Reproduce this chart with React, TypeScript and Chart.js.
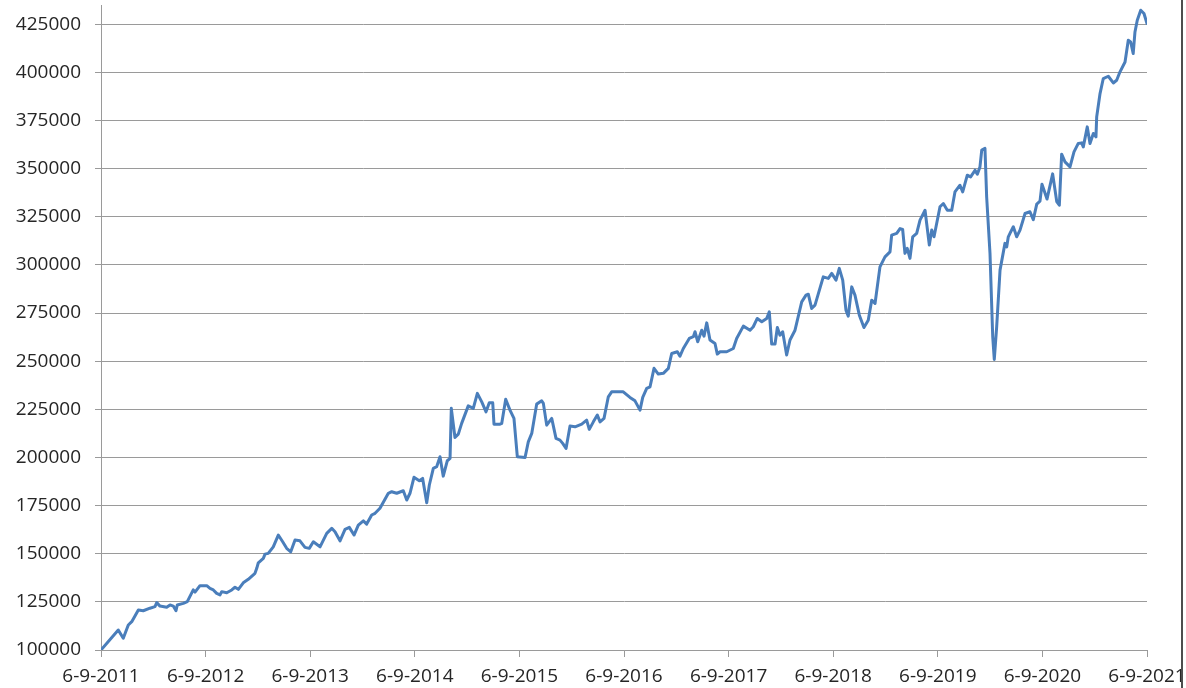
import React, { useEffect, useRef } from 'react';
import { Chart, registerables } from 'chart.js';

Chart.register(...registerables);

const xTickLabels = [
  '6-9-2011', '6-9-2012', '6-9-2013', '6-9-2014', '6-9-2015', '6-9-2016',
  '6-9-2017', '6-9-2018', '6-9-2019', '6-9-2020', '6-9-2021',
];

const yTickValues = [
  100000, 125000, 150000, 175000, 200000, 225000, 250000,
  275000, 300000, 325000, 350000, 375000, 400000, 425000,
];

// time since 6-9-2011, in years
const yearsSinceStart = [
  0, 0.165, 0.213, 0.261, 0.294, 0.357, 0.404, 0.468, 0.516, 0.533,
  0.564, 0.628, 0.66, 0.691, 0.717, 0.729, 0.787, 0.825, 0.882, 0.899,
  0.946, 1.011, 1.042, 1.074, 1.106, 1.138, 1.154, 1.202, 1.25, 1.281,
  1.313, 1.36, 1.408, 1.472, 1.489, 1.504, 1.552, 1.568, 1.599, 1.647,
  1.695, 1.737, 1.775, 1.814, 1.855, 1.902, 1.95, 1.991, 2.03, 2.094,
  2.158, 2.206, 2.237, 2.285, 2.333, 2.374, 2.419, 2.46, 2.508, 2.54,
  2.588, 2.62, 2.667, 2.747, 2.779, 2.827, 2.89, 2.923, 2.954, 2.992,
  3.043, 3.075, 3.114, 3.139, 3.177, 3.209, 3.241, 3.272, 3.311, 3.337,
  3.349, 3.384, 3.416, 3.448, 3.511, 3.559, 3.598, 3.64, 3.681, 3.712,
  3.745, 3.757, 3.815, 3.831, 3.869, 3.91, 3.948, 3.98, 4.054, 4.085,
  4.118, 4.165, 4.213, 4.229, 4.261, 4.309, 4.35, 4.388, 4.414, 4.446,
  4.484, 4.532, 4.596, 4.643, 4.668, 4.707, 4.745, 4.771, 4.809, 4.85,
  4.882, 4.946, 4.993, 5.057, 5.105, 5.153, 5.179, 5.217, 5.249, 5.287,
  5.328, 5.376, 5.424, 5.456, 5.51, 5.535, 5.567, 5.624, 5.663, 5.679,
  5.705, 5.743, 5.765, 5.791, 5.822, 5.87, 5.892, 5.918, 5.982, 6.045,
  6.077, 6.141, 6.205, 6.236, 6.274, 6.317, 6.364, 6.389, 6.412, 6.444,
  6.466, 6.491, 6.517, 6.555, 6.587, 6.635, 6.699, 6.74, 6.762, 6.794,
  6.826, 6.905, 6.953, 6.986, 7.027, 7.058, 7.091, 7.122, 7.144, 7.177,
  7.208, 7.25, 7.294, 7.335, 7.368, 7.4, 7.447, 7.495, 7.543, 7.559,
  7.607, 7.639, 7.664, 7.686, 7.708, 7.734, 7.76, 7.798, 7.83, 7.878,
  7.919, 7.942, 7.964, 8.021, 8.053, 8.091, 8.133, 8.164, 8.212, 8.238,
  8.282, 8.314, 8.356, 8.378, 8.403, 8.42, 8.451, 8.467, 8.499, 8.525,
  8.54, 8.563, 8.595, 8.642, 8.659, 8.674, 8.69, 8.722, 8.754, 8.786,
  8.834, 8.881, 8.913, 8.946, 8.977, 8.996, 9.044, 9.098, 9.137, 9.162,
  9.184, 9.216, 9.264, 9.302, 9.343, 9.376, 9.391, 9.429, 9.455, 9.487,
  9.512, 9.519, 9.551, 9.582, 9.63, 9.678, 9.71, 9.742, 9.79, 9.821,
  9.844, 9.868, 9.885, 9.907, 9.94, 9.971, 10.0,
];

const portfolioValues = [
  100000, 110400, 106100, 113000, 114700, 120800, 120400, 121700, 122500, 124600,
  122800, 122200, 123400, 122800, 120400, 123400, 124200, 125100, 131200, 130100,
  133400, 133400, 132000, 131200, 129400, 128600, 130300, 129700, 131200, 132600,
  131500, 134900, 136700, 139800, 142400, 145300, 147600, 149800, 150200, 153600,
  159700, 156200, 152800, 151000, 157100, 156700, 153300, 152800, 156200, 153600,
  160600, 163200, 161400, 156700, 162700, 163700, 159700, 164900, 167100, 165400,
  170100, 171000, 173600, 181400, 182200, 181400, 182700, 177900, 181400, 189700,
  187900, 189100, 176500, 185700, 194300, 195200, 200400, 190300, 198300, 199500,
  225500, 210400, 212100, 217700, 226800, 225500, 233300, 228900, 223700, 228400,
  228400, 217300, 217300, 217700, 230200, 224600, 220300, 200400, 200000, 208100,
  212500, 227700, 229400, 228100, 216800, 220300, 209900, 209000, 207300, 204700,
  216300, 215900, 217300, 219400, 214600, 218500, 222000, 218500, 220300, 231500,
  234100, 234100, 234100, 231200, 229400, 224600, 231200, 235900, 236700, 246300,
  243300, 243700, 246300, 254000, 254900, 252600, 256600, 261800, 262700, 265300,
  260100, 266100, 263000, 269900, 261000, 259200, 253700, 254900, 254900, 256600,
  261800, 268200, 266100, 267900, 272200, 270500, 272200, 275600, 258900, 258900,
  267500, 263500, 265300, 253200, 261000, 266100, 280800, 284300, 284800, 277400,
  279100, 293800, 293000, 295600, 292100, 298200, 292100, 276500, 273400, 288600,
  284300, 273900, 267500, 271300, 281700, 280000, 299000, 304200, 306800, 315500,
  316400, 318900, 318400, 306000, 308600, 303400, 314600, 316400, 323300, 328400,
  310300, 318100, 314600, 330200, 331900, 328400, 328400, 337900, 341400, 337900,
  346600, 345700, 349200, 347100, 350900, 359600, 360500, 335400, 306000, 262700,
  250900, 267900, 297300, 311200, 309400, 314600, 316400, 319800, 314600, 318100,
  326700, 327600, 323500, 331600, 333100, 341900, 334200, 347300, 332900, 331000,
  357500, 353500, 350900, 358700, 363100, 363400, 361300, 371700, 363100, 368300,
  366500, 376900, 389000, 396800, 398000, 394500, 395900, 400300, 405400, 416700,
  415800, 409800, 421000, 427100, 432300, 430600, 425400,
];

export default function App() {
  const canvasRef = useRef<HTMLCanvasElement | null>(null);

  useEffect(() => {
    if (!canvasRef.current) return;
    const points = yearsSinceStart.map((t, i) => ({ x: t, y: portfolioValues[i] }));
    const font = { family: '"Open Sans", sans-serif', size: 19 };
    const chart = new Chart(canvasRef.current, {
      type: 'line',
      data: {
        datasets: [
          {
            data: points,
            borderColor: '#4A7EBB',
            borderWidth: 3,
            pointRadius: 0,
            tension: 0,
            fill: false,
            borderJoinStyle: 'round',
            borderCapStyle: 'round',
          },
        ],
      },
      options: {
        animation: false,
        responsive: false,
        events: [],
        layout: { padding: { top: 5, right: 39, left: 0, bottom: 0 } },
        plugins: {
          legend: { display: false },
          tooltip: { enabled: false },
        },
        scales: {
          x: {
            type: 'linear',
            min: 0,
            max: xTickLabels.length - 1,
            afterBuildTicks: (scale: any) => {
              scale.ticks = xTickLabels.map((_, i) => ({ value: i }));
            },
            afterFit: (scale: any) => {
              scale.height = 38;
              scale.paddingLeft = 0;
              scale.paddingRight = 0;
            },
            ticks: {
              autoSkip: false,
              maxRotation: 0,
              minRotation: 0,
              padding: 8,
              color: '#262626',
              font,
              callback: (v: any) => xTickLabels[Math.round(Number(v))] ?? '',
            },
            grid: {
              drawOnChartArea: false,
              drawTicks: true,
              tickLength: 7,
              color: '#9a9a9a',
              lineWidth: 1,
            },
            border: { display: true, color: '#9a9a9a', width: 1 },
          },
          y: {
            type: 'linear',
            min: 100000,
            max: 435000,
            afterBuildTicks: (scale: any) => {
              scale.ticks = yTickValues.map((v) => ({ value: v }));
            },
            afterFit: (scale: any) => {
              scale.width = 101;
              scale.paddingTop = 0;
              scale.paddingBottom = 0;
            },
            ticks: {
              padding: 14,
              color: '#262626',
              font,
              callback: (v: any) => String(v),
            },
            grid: {
              drawOnChartArea: true,
              drawTicks: true,
              tickLength: 6,
              color: '#9a9a9a',
              lineWidth: 1,
            },
            border: { display: true, color: '#9a9a9a', width: 1 },
          },
        },
      },
    });
    return () => chart.destroy();
  }, []);

  return (
    <div
      style={{
        position: 'absolute',
        left: 0,
        top: 0,
        width: 1186,
        height: 688,
        overflow: 'hidden',
        background: '#ffffff',
      }}
    >
      <canvas ref={canvasRef} width={1186} height={688} style={{ display: 'block' }} />
      <div
        style={{
          position: 'absolute',
          left: 1181,
          top: 0,
          width: 2,
          height: 688,
          background: '#4d4d4d',
        }}
      />
    </div>
  );
}
